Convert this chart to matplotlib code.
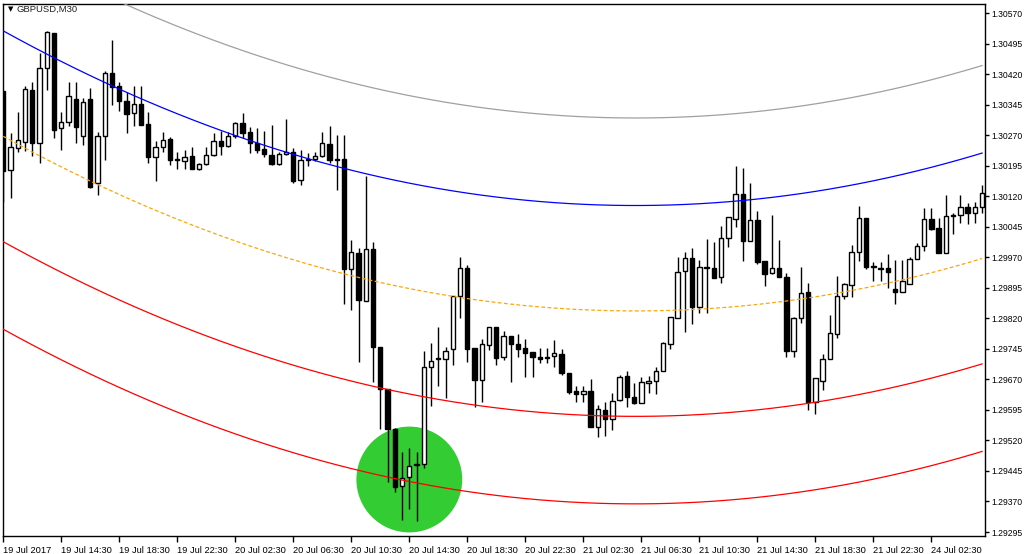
import numpy as np
import pandas as pd
import matplotlib
matplotlib.use("Agg")
import matplotlib.pyplot as plt
from matplotlib.patches import Ellipse

plt.rcParams['font.family'] = ['Liberation Sans', 'DejaVu Sans']

symbol = "GBPUSD,M30"
start_time = "2017-07-19 10:30"

# GBPUSD M30 candles
opens = [
    1.30378, 1.30184, 1.30238, 1.30253, 1.30381, 1.30251, 1.30435, 1.30521, 1.30287, 1.30302,
    1.30359, 1.30268, 1.30359, 1.30152, 1.30268, 1.30423, 1.30391, 1.30354, 1.30324, 1.30346,
    1.30297, 1.30216, 1.30241, 1.30260, 1.30211, 1.30206, 1.30219, 1.30187, 1.30199, 1.30221,
    1.30256, 1.30243, 1.30268, 1.30300, 1.30278, 1.30251, 1.30236, 1.30221, 1.30199, 1.30224,
    1.30229, 1.30160, 1.30211, 1.30211, 1.30219, 1.30248, 1.30211, 1.30211, 1.29941, 1.29980,
    1.29862, 1.29990, 1.29750, 1.29646, 1.29548, 1.29408, 1.29430, 1.29462, 1.29462, 1.29700,
    1.29722, 1.29720, 1.29745, 1.29875, 1.29944, 1.29747, 1.29668, 1.29754, 1.29799, 1.29725,
    1.29776, 1.29757, 1.29747, 1.29737, 1.29725, 1.29725, 1.29727, 1.29732, 1.29686, 1.29641,
    1.29634, 1.29641, 1.29553, 1.29595, 1.29573, 1.29619, 1.29678, 1.29627, 1.29612, 1.29661,
    1.29666, 1.29691, 1.29757, 1.29821, 1.29936, 1.29968, 1.29848, 1.29946, 1.29944, 1.29921,
    1.30017, 1.30064, 1.30125, 1.30010, 1.30061, 1.29961, 1.29931, 1.29944, 1.29921, 1.29740,
    1.29821, 1.29885, 1.29614, 1.29666, 1.29720, 1.29781, 1.29875, 1.29902, 1.29983, 1.30066,
    1.29948, 1.29944, 1.29944, 1.29892, 1.29885, 1.29904, 1.29966, 1.29998, 1.30064, 1.30042,
    1.29980, 1.30074, 1.30074, 1.30093, 1.30079, 1.30093,
]
highs = [
    1.30378, 1.30275, 1.30327, 1.30391, 1.30400, 1.30472, 1.30526, 1.30521, 1.30327, 1.30400,
    1.30400, 1.30361, 1.30386, 1.30278, 1.30428, 1.30504, 1.30400, 1.30376, 1.30391, 1.30391,
    1.30327, 1.30256, 1.30278, 1.30265, 1.30229, 1.30233, 1.30241, 1.30202, 1.30241, 1.30275,
    1.30280, 1.30278, 1.30302, 1.30324, 1.30290, 1.30287, 1.30280, 1.30295, 1.30229, 1.30310,
    1.30238, 1.30233, 1.30226, 1.30229, 1.30278, 1.30292, 1.30270, 1.30270, 1.30012, 1.29993,
    1.30170, 1.30007, 1.29750, 1.29646, 1.29551, 1.29492, 1.29501, 1.29492, 1.29740, 1.29759,
    1.29799, 1.29750, 1.29875, 1.29971, 1.29951, 1.29747, 1.29769, 1.29799, 1.29799, 1.29789,
    1.29776, 1.29781, 1.29769, 1.29737, 1.29747, 1.29747, 1.29767, 1.29745, 1.29686, 1.29654,
    1.29654, 1.29671, 1.29607, 1.29614, 1.29636, 1.29681, 1.29691, 1.29661, 1.29676, 1.29678,
    1.29700, 1.29762, 1.29823, 1.29971, 1.29983, 1.29993, 1.29963, 1.30015, 1.30007, 1.30047,
    1.30069, 1.30194, 1.30189, 1.30152, 1.30084, 1.29961, 1.30074, 1.30012, 1.29931, 1.29823,
    1.29946, 1.29907, 1.29673, 1.29732, 1.29828, 1.29924, 1.29907, 1.30000, 1.30096, 1.30066,
    1.29958, 1.29958, 1.29978, 1.29963, 1.29963, 1.29971, 1.30005, 1.30091, 1.30091, 1.30066,
    1.30123, 1.30079, 1.30123, 1.30103, 1.30106, 1.30147,
]
lows = [
    1.30106, 1.30116, 1.30229, 1.30231, 1.30219, 1.30202, 1.30381, 1.30263, 1.30233, 1.30292,
    1.30251, 1.30246, 1.30140, 1.30123, 1.30209, 1.30344, 1.30329, 1.30275, 1.30292, 1.30295,
    1.30202, 1.30157, 1.30229, 1.30197, 1.30187, 1.30187, 1.30187, 1.30184, 1.30197, 1.30219,
    1.30221, 1.30241, 1.30263, 1.30263, 1.30226, 1.30226, 1.30216, 1.30197, 1.30197, 1.30221,
    1.30152, 1.30147, 1.30194, 1.30206, 1.30216, 1.30202, 1.30135, 1.29855, 1.29840, 1.29713,
    1.29862, 1.29664, 1.29548, 1.29418, 1.29393, 1.29325, 1.29352, 1.29322, 1.29452, 1.29605,
    1.29654, 1.29624, 1.29705, 1.29821, 1.29713, 1.29602, 1.29614, 1.29742, 1.29705, 1.29718,
    1.29664, 1.29725, 1.29676, 1.29676, 1.29710, 1.29710, 1.29700, 1.29681, 1.29634, 1.29614,
    1.29614, 1.29553, 1.29528, 1.29531, 1.29546, 1.29617, 1.29602, 1.29609, 1.29612, 1.29636,
    1.29634, 1.29691, 1.29745, 1.29821, 1.29786, 1.29806, 1.29833, 1.29833, 1.29919, 1.29907,
    1.29995, 1.30044, 1.29961, 1.30010, 1.29953, 1.29899, 1.29929, 1.29921, 1.29725, 1.29725,
    1.29808, 1.29595, 1.29585, 1.29644, 1.29720, 1.29772, 1.29867, 1.29872, 1.29961, 1.29941,
    1.29912, 1.29912, 1.29894, 1.29855, 1.29885, 1.29904, 1.29966, 1.29985, 1.30037, 1.29980,
    1.29980, 1.30027, 1.30054, 1.30052, 1.30054, 1.30079,
]
closes = [
    1.30182, 1.30241, 1.30258, 1.30383, 1.30251, 1.30435, 1.30523, 1.30283, 1.30302, 1.30366,
    1.30290, 1.30351, 1.30143, 1.30268, 1.30423, 1.30388, 1.30354, 1.30322, 1.30346, 1.30295,
    1.30216, 1.30241, 1.30258, 1.30209, 1.30209, 1.30216, 1.30187, 1.30199, 1.30221, 1.30256,
    1.30243, 1.30268, 1.30300, 1.30275, 1.30251, 1.30233, 1.30224, 1.30199, 1.30224, 1.30229,
    1.30157, 1.30209, 1.30209, 1.30219, 1.30251, 1.30209, 1.30209, 1.29941, 1.29983, 1.29865,
    1.29990, 1.29750, 1.29646, 1.29548, 1.29406, 1.29428, 1.29457, 1.29460, 1.29700, 1.29715,
    1.29720, 1.29740, 1.29875, 1.29944, 1.29745, 1.29668, 1.29757, 1.29799, 1.29722, 1.29776,
    1.29757, 1.29745, 1.29735, 1.29725, 1.29720, 1.29722, 1.29735, 1.29686, 1.29639, 1.29634,
    1.29641, 1.29553, 1.29597, 1.29573, 1.29617, 1.29676, 1.29627, 1.29612, 1.29664, 1.29666,
    1.29691, 1.29759, 1.29823, 1.29934, 1.29968, 1.29848, 1.29946, 1.29944, 1.29919, 1.30017,
    1.30069, 1.30125, 1.30010, 1.30061, 1.29958, 1.29929, 1.29944, 1.29921, 1.29740, 1.29821,
    1.29882, 1.29614, 1.29673, 1.29720, 1.29784, 1.29875, 1.29904, 1.29983, 1.30066, 1.29946,
    1.29946, 1.29941, 1.29934, 1.29885, 1.29912, 1.29966, 1.29998, 1.30064, 1.30039, 1.29980,
    1.30071, 1.30071, 1.30093, 1.30079, 1.30093, 1.30128,
]

# regression channel: middle line read at a few bars, band offsets
chan_bars = [0, 20, 40, 60, 80, 100, 120, 135]
chan_mid = [1.30267, 1.30093, 1.29964, 1.29880, 1.29841, 1.29847, 1.29899, 1.29967]
band_inner = 0.00259
band_outer = 0.00474

# highlighted spot (bar index, price)
mark_bar = 56
mark_price = 1.29424

price_ticks = np.round(np.linspace(1.29295, 1.30570, 18), 5)

n = len(closes)
idx = np.arange(n)
o = np.array(opens)
h = np.array(highs)
l = np.array(lows)
c = np.array(closes)

# bar times, weekend skipped
times = pd.date_range(start_time, periods=n * 3, freq="30min")
times = times[times.dayofweek < 5][:n]

fig = plt.figure(figsize=(10.24, 5.54), dpi=100)
ax = fig.add_axes([3 / 1024, 18 / 554, 982 / 1024, 532 / 554])

# green marker circle behind the candles
ax.add_patch(Ellipse((mark_bar, mark_price), width=14.6, height=0.0026,
                     facecolor="#33CC33", edgecolor="none", zorder=1))

# candles
ax.vlines(idx, l, h, color="black", linewidth=1, zorder=3)
up = c >= o
body_lo = np.minimum(o, c)
body_h = np.abs(c - o)
ax.bar(idx[up], body_h[up], bottom=body_lo[up], width=0.6,
       facecolor="white", edgecolor="black", linewidth=1, zorder=4)
ax.bar(idx[~up], body_h[~up], bottom=body_lo[~up], width=0.6,
       facecolor="black", edgecolor="black", linewidth=1, zorder=4)

# channel lines
coef = np.polyfit(chan_bars, chan_mid, 2)
mid = np.polyval(coef, idx)
ax.plot(idx, mid + band_outer, color="#A0A0A0", linewidth=0.9, zorder=5)
ax.plot(idx, mid + band_inner, color="#0000FF", linewidth=0.9, zorder=5)
ax.plot(idx, mid, color="#FFA500", linewidth=0.9, linestyle=(0, (3, 2)), zorder=5)
ax.plot(idx, mid - band_inner, color="#FF0000", linewidth=0.9, zorder=5)
ax.plot(idx, mid - band_outer, color="#FF0000", linewidth=0.9, zorder=5)

ax.set_xlim(-0.04, 135.4)
ax.set_ylim(1.292852, 1.305922)

# axes look
ax.yaxis.tick_right()
ax.set_yticks(price_ticks)
ax.set_yticklabels([f"{p:.5f}" for p in price_ticks])
tick_pos = idx[::8]
ax.set_xticks(tick_pos)
labels = []
for k, t in enumerate(times[tick_pos]):
    labels.append(t.strftime("%d %b %Y") if k == 0 else t.strftime("%d %b %H:%M"))
ax.set_xticklabels(labels)
for lbl in ax.get_xticklabels():
    lbl.set_ha("left")
ax.tick_params(axis="both", direction="out", width=1, color="black",
               labelcolor="black")
ax.tick_params(axis="y", length=3, pad=1.5, labelsize=6.2)
ax.tick_params(axis="x", length=4, pad=3, labelsize=6.7)
for sp in ax.spines.values():
    sp.set_color("black")
    sp.set_linewidth(1)

ax.text(0.005, 0.9895, "\u25bc", transform=ax.transAxes, fontsize=5,
        va="center", ha="left", family=["DejaVu Sans"])
ax.text(0.014, 0.9895, symbol, transform=ax.transAxes, fontsize=6.8,
        va="center", ha="left", color="#202020")

fig.savefig("out.png", dpi=100, facecolor="white")
